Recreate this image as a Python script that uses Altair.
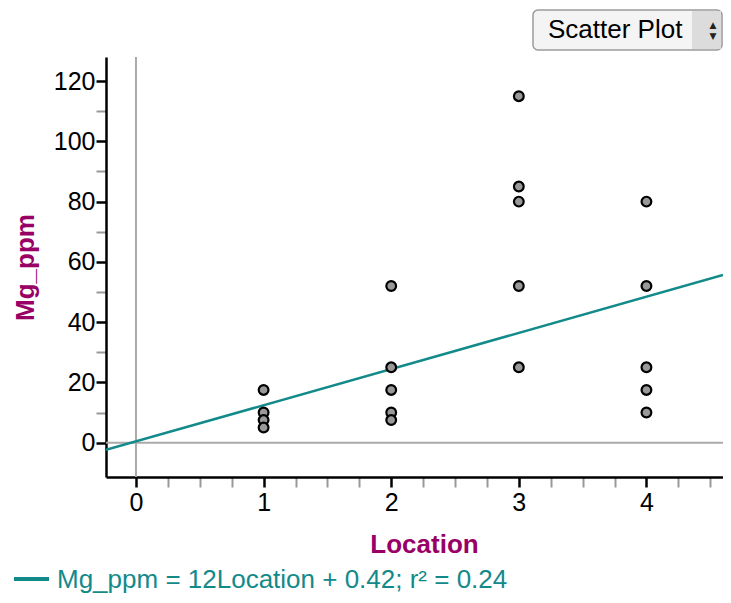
import altair as alt
import pandas as pd

# ---- data ----
location = [1, 1, 1, 1,
            2, 2, 2, 2, 2,
            3, 3, 3, 3, 3,
            4, 4, 4, 4, 4]
mg_ppm = [17.5, 10, 7.5, 5,
          52, 25, 17.5, 10, 7.5,
          115, 85, 80, 52, 25,
          80, 52, 25, 17.5, 10]

fit_slope = 12
fit_intercept = 0.42
fit_r2 = 0.24

x_labels = [0, 1, 2, 3, 4]
x_tick_values = [i * 0.25 for i in range(0, 19)]
y_labels = [0, 20, 40, 60, 80, 100, 120]
y_tick_values = list(range(0, 121, 10))
x_domain = [-0.235, 4.6]
y_domain = [-11.4, 128]

menu_label = "Scatter Plot"

# ---- tables ----
pts = pd.DataFrame({"Location": location, "Mg_ppm": mg_ppm})
fit = pd.DataFrame({"Location": x_domain})
fit["Mg_ppm"] = fit_slope * fit["Location"] + fit_intercept
vref = pd.DataFrame({"Location": [0]})
href = pd.DataFrame({"Mg_ppm": [0]})
one = pd.DataFrame({"a": [0]})
legend_text = f"Mg_ppm = {fit_slope}Location + {fit_intercept}; r\u00b2 = {fit_r2}"

FONT = "Liberation Sans"
TITLE_COLOR = "#990066"
TEAL = "#138a8a"

xtest = f"indexof({x_labels}, datum.value) >= 0"
ytest = f"indexof({y_labels}, datum.value) >= 0"

x_axis = alt.Axis(
    values=x_tick_values,
    labelExpr=f"{xtest} ? format(datum.value, 'd') : ''",
    tickColor={"condition": {"test": xtest, "value": "black"}, "value": "#999999"},
    tickWidth={"condition": {"test": xtest, "value": 2.5}, "value": 2},
    tickSize=10,
    domainColor="black", domainWidth=2.5,
    labelFont=FONT, labelFontSize=25, labelColor="black", labelPadding=3,
    grid=False,
    title="Location", titleFont=FONT, titleFontSize=26, titleFontWeight="bold",
    titleColor=TITLE_COLOR, titleX=318, titleY=67, titleBaseline="middle",
    titleAlign="center",
)
y_axis = alt.Axis(
    values=y_tick_values,
    labelExpr=f"{ytest} ? format(datum.value, 'd') : ''",
    tickColor={"condition": {"test": ytest, "value": "black"}, "value": "#999999"},
    tickWidth={"condition": {"test": ytest, "value": 2.5}, "value": 2},
    tickSize=10,
    domainColor="black", domainWidth=2.5,
    labelFont=FONT, labelFontSize=25, labelColor="black", labelPadding=1,
    grid=False,
    title="Mg_ppm", titleFont=FONT, titleFontSize=26, titleFontWeight="bold",
    titleColor=TITLE_COLOR, titleX=-81, titleY=210, titleAngle=270,
    titleBaseline="middle", titleAlign="center",
)
xs = alt.Scale(domain=x_domain, nice=False, zero=False)
ys = alt.Scale(domain=y_domain, nice=False, zero=False)

ref_v = alt.Chart(vref).mark_rule(color="#aaaaaa", strokeWidth=2).encode(
    x=alt.X("Location:Q", scale=xs, axis=x_axis)
)
ref_h = alt.Chart(href).mark_rule(color="#aaaaaa", strokeWidth=2).encode(
    y=alt.Y("Mg_ppm:Q", scale=ys, axis=y_axis)
)
line = alt.Chart(fit).mark_line(color=TEAL, strokeWidth=2.5, clip=True).encode(
    x=alt.X("Location:Q", scale=xs, axis=x_axis),
    y=alt.Y("Mg_ppm:Q", scale=ys, axis=y_axis),
)
points = alt.Chart(pts).mark_point(
    shape="circle", filled=True, fill="#999999", stroke="black",
    strokeWidth=2.2, size=95, opacity=1,
).encode(
    x=alt.X("Location:Q", scale=xs, axis=x_axis),
    y=alt.Y("Mg_ppm:Q", scale=ys, axis=y_axis),
)

# legend (regression equation) below the plot
swatch = alt.Chart(one).mark_rule(color=TEAL, strokeWidth=4).encode(
    x=alt.value(-92), x2=alt.value(-57), y=alt.value(522)
)
legend = alt.Chart(one).mark_text(
    text=legend_text, font=FONT, fontSize=26, color=TEAL,
    align="left", baseline="middle",
).encode(x=alt.value(-49), y=alt.value(523))

# "Scatter Plot" menu in the top right corner
menu_box = alt.Chart(one).mark_rect(
    fill="#f4f4f4", stroke="#9a9a9a", strokeWidth=1.5, cornerRadius=5
).encode(x=alt.value(427), x2=alt.value(616), y=alt.value(-47), y2=alt.value(-7))
menu_spin = alt.Chart(one).mark_rect(fill="#dcdcdc").encode(
    x=alt.value(586), x2=alt.value(615), y=alt.value(-46), y2=alt.value(-8)
)
menu_text = alt.Chart(one).mark_text(
    text=menu_label, font=FONT, fontSize=26, color="black",
    align="left", baseline="middle",
).encode(x=alt.value(442), y=alt.value(-27))
arrow_up = alt.Chart(one).mark_text(
    text="\u25b2", font="DejaVu Sans", fontSize=9, color="#222222",
    align="center", baseline="middle",
).encode(x=alt.value(607), y=alt.value(-32))
arrow_dn = alt.Chart(one).mark_text(
    text="\u25bc", font="DejaVu Sans", fontSize=9, color="#222222",
    align="center", baseline="middle",
).encode(x=alt.value(607), y=alt.value(-21))

chart = alt.layer(
    ref_v, ref_h, line, points, swatch, legend,
    menu_box, menu_spin, menu_text, arrow_up, arrow_dn,
).properties(
    width=617, height=420,
    autosize=alt.AutoSizeParams(type="none"),
    padding={"left": 98, "top": 49, "right": 0, "bottom": 118},
).configure_view(stroke=None)

chart.save("out.html", embed_options={"renderer": "svg", "actions": False})
